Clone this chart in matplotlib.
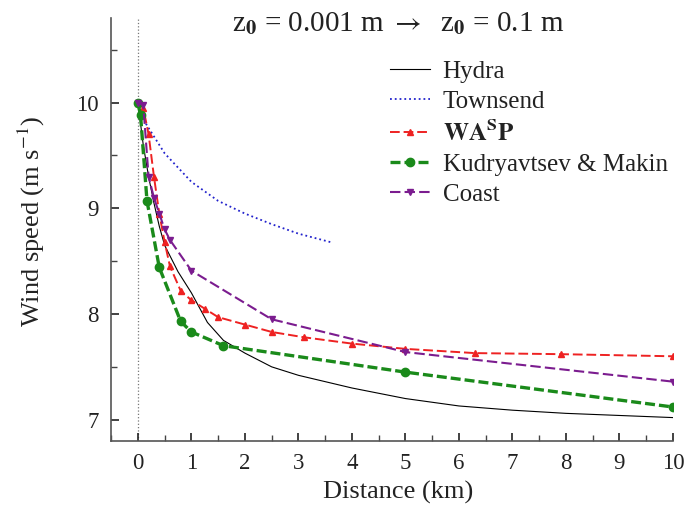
import numpy as np
import matplotlib
matplotlib.use('Agg')
from matplotlib import pyplot as plt
from matplotlib.ticker import MultipleLocator

plt.rcParams['font.family'] = ['Liberation Serif', 'DejaVu Serif']
plt.rcParams['mathtext.fontset'] = 'stix'

# Hydra (thin black line)
hydra_x = [0, 0.1, 0.2, 0.3, 0.4, 0.5, 0.75, 1.0, 1.3, 1.6, 2.0, 2.5, 3.0, 4.0, 5.0, 6.0, 7.0, 8.0, 9.0, 10.0]
hydra_y = [10.0, 9.6, 9.3, 9.05, 8.83, 8.65, 8.4, 8.2, 7.92, 7.75, 7.63, 7.5, 7.42, 7.3, 7.2, 7.13, 7.09, 7.06, 7.04, 7.02]

# Townsend (blue dotted)
townsend_x = [0.15, 0.5, 1.0, 1.5, 2.0, 2.5, 3.0, 3.6]
townsend_y = [9.8, 9.52, 9.25, 9.07, 8.95, 8.85, 8.76, 8.68]

# WAsP (red, triangles)
wasp_x = [0, 0.1, 0.2, 0.3, 0.4, 0.5, 0.6, 0.8, 1.0, 1.25, 1.5, 2.0, 2.5, 3.1, 4.0, 5.0, 6.3, 7.9, 10.0]
wasp_y = [10.0, 9.95, 9.7, 9.3, 8.95, 8.68, 8.45, 8.22, 8.13, 8.05, 7.97, 7.9, 7.83, 7.78, 7.72, 7.67, 7.63, 7.62, 7.6]

# Kudryavtsev & Makin (green, circles)
km_x = [0, 0.05, 0.17, 0.4, 0.8, 1.0, 1.6, 5.0, 10.0]
km_y = [10.0, 9.88, 9.07, 8.44, 7.93, 7.83, 7.7, 7.45, 7.12]

# Coast (purple, down triangles)
coast_x = [0, 0.1, 0.2, 0.3, 0.4, 0.5, 0.6, 1.0, 2.5, 5.0, 10.0]
coast_y = [10.0, 9.98, 9.3, 9.1, 8.95, 8.8, 8.7, 8.41, 7.95, 7.64, 7.36]

fig = plt.figure(figsize=(6.86, 5.15), dpi=100)
ax = fig.add_axes([0.162, 0.144, 0.819, 0.821])

ax.axvline(0, color='#777777', lw=0.9, ls=':', zorder=1)

ax.plot(hydra_x, hydra_y, '-', color='black', lw=0.8, label='Hydra', zorder=3)
ax.plot(townsend_x, townsend_y, ':', color='#2222cc', lw=1.3, label='Townsend', zorder=3)
ax.plot(wasp_x, wasp_y, '--', color='#ee2222', lw=1.4, marker='^', ms=5,
        dashes=(5, 2), label=r'$\mathbf{WA^{S}P}$', zorder=4)
ax.plot(km_x, km_y, '--', color='#1a8a1a', lw=2.4, marker='o', ms=6,
        dashes=(3, 1.2), label='Kudryavtsev & Makin', zorder=4)
ax.plot(coast_x, coast_y, '--', color='#7b1c8f', lw=1.5, marker='v', ms=5,
        dashes=(5, 2), label='Coast', zorder=5)

ax.set_xlim(-0.5, 10)
ax.set_ylim(6.8, 10.8)
ax.xaxis.set_major_locator(MultipleLocator(1))
ax.xaxis.set_minor_locator(MultipleLocator(0.5))
ax.yaxis.set_major_locator(MultipleLocator(1))
ax.yaxis.set_minor_locator(MultipleLocator(0.5))
ax.tick_params(which='major', direction='in', length=6, width=1.2, labelsize=16.5, colors='#222222', pad=9)
ax.tick_params(which='minor', direction='in', length=4, width=1.0, colors='#444444')

for s in ['top', 'right']:
    ax.spines[s].set_visible(False)
for s in ['left', 'bottom']:
    ax.spines[s].set_color('#555555')
    ax.spines[s].set_linewidth(1.2)

ax.set_xlabel('Distance (km)', fontsize=19, color='#222222')
ax.set_ylabel(r'Wind speed (m s$^{-1}$)', fontsize=19, color='#222222')
ax.xaxis.set_label_coords(0.51, -0.095)
ax.yaxis.set_label_coords(-0.115, 0.52)

fig.text(0.58, 0.955, r'z$_\mathbf{0}$ = 0.001 m $\rightarrow$  z$_\mathbf{0}$ = 0.1 m',
         fontsize=21, ha='center', va='center', color='#222222')

leg = ax.legend(loc='upper left', bbox_to_anchor=(0.536, 0.926), bbox_transform=fig.transFigure,
                frameon=False, fontsize=18, handlelength=1.6, labelspacing=0.3, handletextpad=0.5)
for t in leg.get_texts():
    t.set_color('#222222')

fig.savefig('out.png', dpi=100)
